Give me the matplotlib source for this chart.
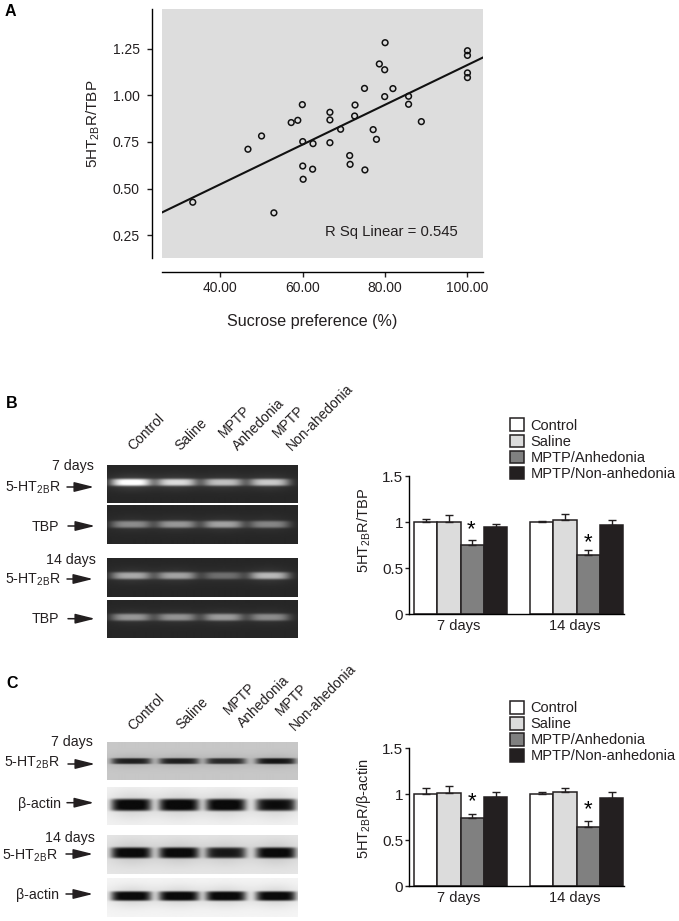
import numpy as np
import matplotlib
matplotlib.use("Agg")
import matplotlib.pyplot as plt
from matplotlib.patches import Patch

W, H = 679, 921
DARK = "#231f20"

plt.rcParams["font.family"] = ["Liberation Sans", "DejaVu Sans"]
plt.rcParams["mathtext.fontset"] = "custom"
plt.rcParams["mathtext.rm"] = "Liberation Sans"
plt.rcParams["mathtext.default"] = "rm"
plt.rcParams["text.color"] = DARK
plt.rcParams["axes.labelcolor"] = DARK
plt.rcParams["xtick.color"] = DARK
plt.rcParams["ytick.color"] = DARK

# ==========================
# Panel A data
# ==========================
sucrose = [33.3, 46.7, 50.0, 53.0, 57.2, 58.8, 59.9, 60.0, 62.5, 60.0, 60.1, 62.4,
           66.6, 66.6, 66.6, 69.2, 71.4, 71.5, 75.1, 72.7, 72.6, 77.1, 77.9, 75.0,
           79.9, 81.9, 78.6, 79.9, 80.0, 85.7, 85.7, 88.8, 100.0, 100.0, 100.0, 100.0]
ratio = [0.427, 0.711, 0.782, 0.370, 0.854, 0.866, 0.950, 0.752, 0.741, 0.621, 0.550, 0.604,
         0.909, 0.868, 0.746, 0.818, 0.677, 0.630, 0.600, 0.948, 0.889, 0.816, 0.764, 1.037,
         0.993, 1.036, 1.168, 1.137, 1.282, 0.995, 0.952, 0.859, 1.239, 1.214, 1.120, 1.095]
fit_x = [25.9, 103.7]
fit_y = [0.373, 1.202]
a_xticks = [40, 60, 80, 100]
a_yticks = [0.25, 0.50, 0.75, 1.00, 1.25]

# ==========================
# Bar panel data
# ==========================
groups = ["7 days", "14 days"]
treatments = ["Control", "Saline", "MPTP/Anhedonia", "MPTP/Non-anhedonia"]
bar_colors = ["white", "#dcdcdc", "#808080", DARK]

b_7 = [1.0, 1.0, 0.745, 0.95]
b_7_err = [0.03, 0.08, 0.06, 0.03]
b_14 = [1.0, 1.02, 0.64, 0.965]
b_14_err = [0.01, 0.065, 0.055, 0.06]

c_7 = [1.0, 1.01, 0.735, 0.97]
c_7_err = [0.07, 0.075, 0.05, 0.055]
c_14 = [1.0, 1.025, 0.645, 0.955]
c_14_err = [0.025, 0.045, 0.065, 0.07]

# Gel band strengths, one row per blot, one column per lane
b_gels = [[1.00, 0.80, 0.68, 0.72],
          [0.45, 0.50, 0.55, 0.42],
          [0.58, 0.55, 0.32, 0.65],
          [0.50, 0.48, 0.52, 0.45]]
c_gels = [[0.85, 0.85, 0.80, 0.90],
          [1.00, 1.00, 1.00, 0.95],
          [1.00, 1.00, 0.90, 1.00],
          [1.00, 1.00, 1.00, 1.00]]


def px_axes(fig, x0, y0, x1, y1, **kw):
    return fig.add_axes([x0 / W, 1 - y1 / H, (x1 - x0) / W, (y1 - y0) / H], **kw)


fig = plt.figure(figsize=(W / 100, H / 100), dpi=100, facecolor="white")

# ==========================
# Panel A
# ==========================
ax = px_axes(fig, 162.3, 9.3, 482.7, 258, facecolor="#dddddd")
ax.plot(fit_x, fit_y, color="#111111", lw=1.5, zorder=2)
ax.scatter(sucrose, ratio, s=17, facecolor="none", edgecolor="#111111", linewidth=1.1, zorder=3)
ax.set_xlim(25.9, 103.7)
ax.set_ylim(0.128, 1.461)
ax.set_xticks(a_xticks)
ax.set_xticklabels(["%.2f" % v for v in a_xticks], fontsize=10.5)
ax.set_yticks(a_yticks)
ax.set_yticklabels(["%.2f" % v for v in a_yticks], fontsize=10.5)
ax.tick_params(axis="y", length=3.6, width=1, pad=5)
ax.tick_params(axis="x", length=3.6, width=1, pad=3)
for side in ["top", "right"]:
    ax.spines[side].set_visible(False)
ax.spines["left"].set_position(("outward", 7.5))
ax.spines["bottom"].set_position(("outward", 9.8))
ax.spines["left"].set_linewidth(1)
ax.spines["bottom"].set_linewidth(1)


# ==========================
# Bar panels
# ==========================
def bar_panel(y_top, y_zero, seven, seven_err, fourteen, fourteen_err):
    bax = px_axes(fig, 409.3, y_top, 624, y_zero)
    starts = [0, 4.97]
    for g, vals, errs in zip(starts, [seven, fourteen], [seven_err, fourteen_err]):
        for i in range(4):
            bax.bar(g + i + 0.5, vals[i], width=1, color=bar_colors[i], edgecolor=DARK, linewidth=1.1,
                    yerr=[[0], [errs[i]]],
                    error_kw=dict(ecolor=DARK, elinewidth=1, capsize=3, capthick=1))
    bax.set_xlim(-0.2, 9.0)
    bax.set_ylim(0, 1.5)
    bax.set_yticks([0, 0.5, 1, 1.5])
    bax.set_yticklabels(["0", "0.5", "1", "1.5"], fontsize=11)
    bax.set_xticks([1.9, 6.9])
    bax.set_xticklabels(groups, fontsize=10.5)
    bax.tick_params(axis="y", length=3, width=1, pad=1.5)
    bax.tick_params(axis="x", length=0, pad=3.5)
    for side in ["top", "right"]:
        bax.spines[side].set_visible(False)
    bax.spines["left"].set_linewidth(1)
    bax.spines["bottom"].set_linewidth(1)
    return bax


bar_b = bar_panel(476, 614, b_7, b_7_err, b_14, b_14_err)
bar_c = bar_panel(748, 886, c_7, c_7_err, c_14, c_14_err)

handles = [Patch(facecolor=c, edgecolor=DARK, linewidth=1.1) for c in bar_colors]
for bax, top in [(bar_b, 418.5), (bar_c, 701)]:
    bax.legend(handles, treatments, loc="upper left", bbox_to_anchor=(510 / W, 1 - top / H),
               bbox_transform=fig.transFigure, frameon=False, fontsize=10.5, borderpad=0, borderaxespad=0,
               handlelength=0.95, handleheight=0.95, handletextpad=0.45, labelspacing=0.12,
               labelcolor=DARK)


# ==========================
# Blots
# ==========================
def blot(y0, y1, bg, band, centers, strengths, half_w, half_h, yfrac, power=4):
    x0, x1 = 106.7, 297
    gax = px_axes(fig, x0, y0, x1, y1)
    xx, yy = np.meshgrid(np.arange(x0, x1, 0.5), np.arange(y0, y1, 0.5))
    cy = y0 + (y1 - y0) * yfrac
    mix = np.zeros_like(xx)
    for c, s in zip(centers, strengths):
        core = np.exp(-np.abs((xx - c) / half_w) ** power - np.abs((yy - cy) / half_h) ** power)
        glow = np.exp(-((xx - c) / (half_w * 1.15)) ** 2 - ((yy - cy) / (half_h * 2.2)) ** 2)
        mix += s * (0.9 * core + 0.15 * glow)
    img = bg + (band - bg) * np.clip(mix, 0, 1)
    gax.imshow(img, cmap="gray", vmin=0, vmax=1, aspect="auto", interpolation="bilinear")
    gax.set_axis_off()


b_rows = [(465, 503, 0.45), (505.3, 544.3, 0.49), (558.3, 597, 0.45), (599.7, 638.3, 0.465)]
b_centers = [130.7, 176, 222.3, 268.3]
for (y0, y1, frac), s in zip(b_rows, b_gels):
    blot(y0, y1, 0.15, 1.0, b_centers, s, 20, 3.6, frac)

c_rows = [(742.3, 780, 0.50, 0.78, 3), (786.7, 825, 0.48, 0.95, 6), (835, 874, 0.45, 0.90, 5.5), (878, 916.7, 0.46, 0.96, 4.8)]
c_centers = [130.7, 178.3, 225, 275]
for (y0, y1, frac, bg, hh), s in zip(c_rows, c_gels):
    blot(y0, y1, bg, 0.04, c_centers, s, 20, hh, frac, power=6)

# ==========================
# Labels and arrows, placed in picture pixels
# ==========================
top = fig.add_axes([0, 0, 1, 1], facecolor="none")
top.set_xlim(0, W)
top.set_ylim(H, 0)
top.set_axis_off()

SUB = r"$_{\mathregular{2B}}$"

for letter, x, y in [("A", 5, 11), ("B", 6, 403), ("C", 6, 683)]:
    top.text(x, y, letter, fontsize=11.5, fontweight="bold", color="black", va="center")

top.text(93, 124, "5HT" + SUB + "R/TBP", fontsize=11, rotation=90, ha="center", va="center")
top.text(312, 321, "Sucrose preference (%)", fontsize=11.6, ha="center", va="center")
top.text(325, 231.5, "R Sq Linear = 0.545", fontsize=10.7, va="center")
top.text(364, 530, "5HT" + SUB + "R/TBP", fontsize=10.5, rotation=90, ha="center", va="center")
top.text(364, 809, "5HT" + SUB + "R/\u03b2-actin", fontsize=10.5, rotation=90, ha="center", va="center")

lane_labels = [("Control", 133, 451), ("Saline", 180, 451), ("MPTP", 224, 438), ("Anhedonia", 238, 451),
               ("MPTP", 278, 438), ("Non-ahedonia", 292, 451),
               ("Control", 133, 731), ("Saline", 181, 730), ("MPTP", 229, 715), ("Anhedonia", 243, 728),
               ("MPTP", 281, 716), ("Non-ahedonia", 295, 731)]
for txt, x, y in lane_labels:
    top.text(x, y, txt, fontsize=10, rotation=45, rotation_mode="anchor", ha="left", va="baseline")

row_labels = [("7 days", 94, 465.5), ("5-HT" + SUB + "R", 61, 488), ("TBP", 59, 527), ("14 days", 96, 560),
              ("5-HT" + SUB + "R", 61, 580), ("TBP", 59, 619),
              ("7 days", 93, 741.5), ("5-HT" + SUB + "R", 60, 763), ("\u03b2-actin", 61, 804), ("14 days", 95, 838),
              ("5-HT" + SUB + "R", 58, 856), ("\u03b2-actin", 59, 895)]
for txt, x, y in row_labels:
    top.text(x, y, txt, fontsize=10.2, ha="right", va="center")

arrows = [(67, 94, 487), (68, 95, 526), (67, 93, 579), (68, 95, 618.7),
          (68, 95, 764), (67, 94, 802.7), (66, 93, 854), (66, 93, 894)]
for x0, x1, y in arrows:
    top.annotate("", xy=(x1, y), xytext=(x0, y),
                 arrowprops=dict(arrowstyle="-|>,head_length=1.0,head_width=0.25", mutation_scale=12,
                                 color=DARK, lw=1.1, shrinkA=0, shrinkB=0))

# asterisks
for x, y in [(471.5, 530), (588, 543), (472.5, 802), (588.5, 810)]:
    top.text(x, y, "*", fontsize=16, ha="center", va="center", color="black")

fig.savefig("out.png", dpi=100, facecolor="white")
